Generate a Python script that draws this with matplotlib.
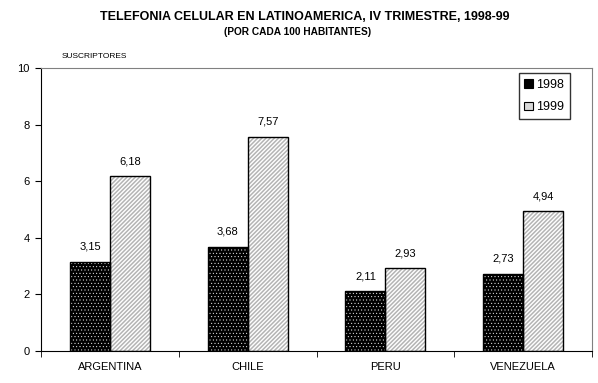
import matplotlib
matplotlib.use("Agg")
import matplotlib.pyplot as plt
import numpy as np
from matplotlib.patches import Patch

plt.rcParams["font.family"] = ["Liberation Sans", "DejaVu Sans"]

countries = ["ARGENTINA", "CHILE", "PERU", "VENEZUELA"]
subs_1998 = [3.15, 3.68, 2.11, 2.73]
subs_1999 = [6.18, 7.57, 2.93, 4.94]
labels_1998 = ["3,15", "3,68", "2,11", "2,73"]
labels_1999 = ["6,18", "7,57", "2,93", "4,94"]

DOTS = "....."
STRIPES = "////////"
GREY = "#b4b4b4"

W, H = 598, 383
fig = plt.figure(figsize=(W / 100, H / 100), dpi=100)
ax = fig.add_axes([41 / W, 1 - 351 / H, (592 - 41) / W, (351 - 68) / H])

x = np.arange(len(countries))
bw = 0.29


def hatched_bars(xpos, vals, face, hatch_col, hatch, hlw):
    # hatch pass (hatch takes edge colour), then black outline on top
    with plt.rc_context({"hatch.linewidth": hlw}):
        ax.bar(xpos, vals, bw, color=face, edgecolor=hatch_col, hatch=hatch,
               linewidth=0, zorder=2)
    ax.bar(xpos, vals, bw, fill=False, edgecolor="black", linewidth=1.0,
           zorder=3)


hatched_bars(x - bw / 2, subs_1998, "black", "white", DOTS, 0.3)
hatched_bars(x + bw / 2, subs_1999, "white", GREY, STRIPES, 1.1)

for xi, v, t in zip(x - bw / 2, subs_1998, labels_1998):
    ax.text(xi, v + 0.35, t, ha="center", va="bottom", fontsize=8)
for xi, v, t in zip(x + bw / 2, subs_1999, labels_1999):
    ax.text(xi, v + 0.35, t, ha="center", va="bottom", fontsize=8)

ax.set_xlim(-0.5, len(countries) - 0.5)
ax.set_ylim(0, 10)
ax.set_yticks(range(0, 11, 2))
ax.tick_params(axis="y", labelsize=8, length=4, direction="out", pad=4)

ax.set_xticks(x)
ax.set_xticklabels(countries, fontsize=8)
ax.tick_params(axis="x", length=0, pad=8)
ax.set_xticks(np.arange(-0.5, len(countries)), minor=True)
ax.tick_params(axis="x", which="minor", length=4, direction="out")

for s in ["top", "right"]:
    ax.spines[s].set_color("#808080")
for s in ["left", "bottom"]:
    ax.spines[s].set_color("black")

handles = [
    Patch(facecolor="black", edgecolor="black"),
    Patch(facecolor="#d8d8d8", edgecolor="black"),
]
leg = ax.legend(handles, ["1998", "1999"], loc="upper right",
                bbox_to_anchor=(0.96, 0.982), borderaxespad=0, fontsize=9,
                frameon=True, fancybox=False, edgecolor="black",
                handlelength=0.7, handleheight=0.7, handletextpad=0.25,
                labelspacing=0.85, borderpad=0.45)
leg.get_frame().set_linewidth(1.0)
for hnd in leg.legend_handles:
    hnd.set_linewidth(0.8)

fig.text(305 / W, 1 - 17 / H,
         "TELEFONIA CELULAR EN LATINOAMERICA, IV TRIMESTRE, 1998-99",
         ha="center", va="center", fontsize=9, fontweight="bold")
fig.text(298 / W, 1 - 32 / H, "(POR CADA 100 HABITANTES)",
         ha="center", va="center", fontsize=7.3, fontweight="bold")
fig.text(62 / W, 1 - 57 / H, "SUSCRIPTORES", ha="left", va="center",
         fontsize=6)

fig.savefig("out.png", dpi=100)
